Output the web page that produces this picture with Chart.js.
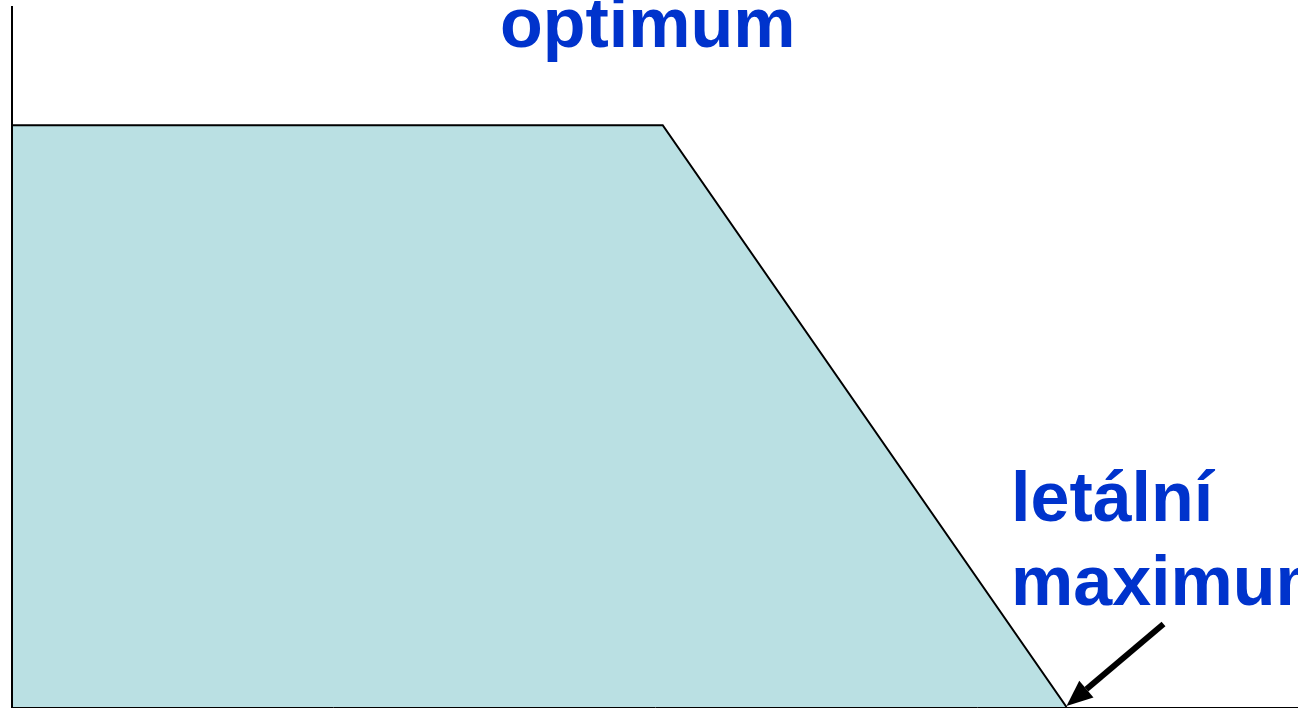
<!DOCTYPE html>
<html>
<head>
<meta charset="utf-8">
<style>
  html, body { margin: 0; padding: 0; background: #fff; }
  #wrap { width: 1298px; height: 708px; position: relative; }
</style>
<script src="https://cdn.jsdelivr.net/npm/chart.js@4.4.1/dist/chart.umd.min.js"></script>
</head>
<body>
<div id="wrap"><canvas id="chart"></canvas></div>
<script>
// tolerance curve: outline of the shaded area
const curveX = [0, 0, 50.6, 82];
const curveY = [0, 83.1, 83.1, 0];
// base of the shaded area
const baseX = [0, 82];
const baseY = [0, 0];

const labelOptimum = 'optimum';
const labelLethal = ['letální', 'maximum'];

const blue = '#0033CC';
const labelFont = 'bold 70px "Liberation Sans", Arial, sans-serif';

const annotationsPlugin = {
    id: 'annotations',
    afterDatasetsDraw(c) {
        const ctx = c.ctx;
        const xs = c.scales.x, ys = c.scales.y;
        ctx.save();
        ctx.fillStyle = blue;
        ctx.font = labelFont;
        ctx.textAlign = 'left';
        ctx.textBaseline = 'alphabetic';
        ctx.fillText(labelOptimum, 500, 47);
        ctx.fillText(labelLethal[0], 1011, 521);
        ctx.fillText(labelLethal[1], 1011, 605);

        // arrow pointing at the lethal maximum
        const tipX = xs.getPixelForValue(curveX[3]);
        const tipY = ys.getPixelForValue(curveY[3]) - 1;
        const tailX = tipX + 97, tailY = tipY - 82;
        const ang = Math.atan2(tipY - tailY, tipX - tailX);
        const headLen = 26, headW = 11;
        const bx = tipX - headLen * Math.cos(ang), by = tipY - headLen * Math.sin(ang);
        ctx.strokeStyle = '#000';
        ctx.lineWidth = 6;
        ctx.beginPath();
        ctx.moveTo(tailX, tailY);
        ctx.lineTo(bx, by);
        ctx.stroke();
        ctx.fillStyle = '#000';
        ctx.beginPath();
        ctx.moveTo(tipX, tipY);
        ctx.lineTo(bx + headW * Math.sin(ang), by - headW * Math.cos(ang));
        ctx.lineTo(bx - headW * Math.sin(ang), by + headW * Math.cos(ang));
        ctx.closePath();
        ctx.fill();
        ctx.restore();
    }
};

new Chart(document.getElementById('chart'), {
    type: 'line',
    data: {
        datasets: [
            {
                data: curveX.map((x, i) => ({ x, y: curveY[i] })),
                fill: 'origin',
                backgroundColor: '#BAE0E3',
                borderColor: '#000',
                borderWidth: 2,
                pointRadius: 0,
                tension: 0
            },
            {
                data: baseX.map((x, i) => ({ x, y: baseY[i] })),
                fill: false,
                borderColor: '#000',
                borderWidth: 2,
                pointRadius: 0
            }
        ]
    },
    options: {
        responsive: true,
        maintainAspectRatio: false,
        animation: false,
        layout: { padding: { top: 7, left: 12, right: 0, bottom: 1 } },
        plugins: {
            legend: { display: false },
            tooltip: { enabled: false }
        },
        scales: {
            x: {
                type: 'linear',
                min: 0,
                max: 100,
                grid: { display: false, drawTicks: false },
                ticks: { display: false },
                border: { display: true, color: '#000', width: 1 }
            },
            y: {
                min: 0,
                max: 100,
                grid: { display: false, drawTicks: false },
                ticks: { display: false },
                border: { display: true, color: '#000', width: 2 }
            }
        }
    },
    plugins: [annotationsPlugin]
});
</script>
</body>
</html>
